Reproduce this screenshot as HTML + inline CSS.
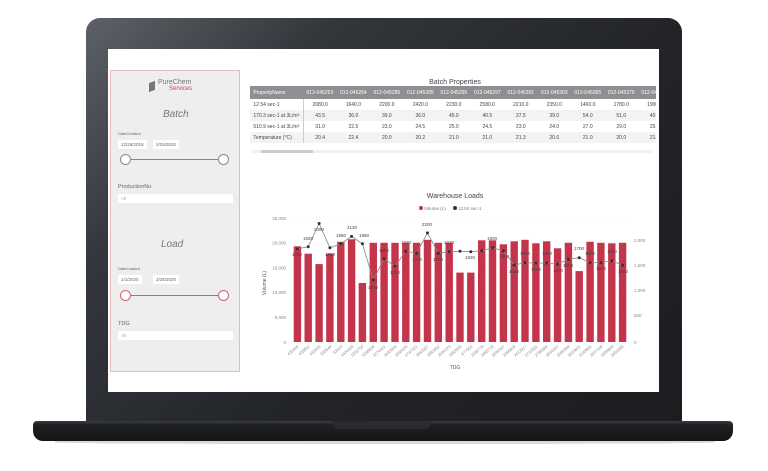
<!DOCTYPE html>
<html><head><meta charset="utf-8"><style>
html,body{margin:0;padding:0;width:768px;height:471px;overflow:hidden;background:#fff;font-family:"Liberation Sans",sans-serif}
.abs{position:absolute}
.bezel{left:86px;top:18px;width:596px;height:406px;border-radius:14px 14px 0 0;background:linear-gradient(135deg,#5d6268 0%,#33363b 25%,#222428 60%,#1c1d20 100%)}
.screen{left:108px;top:49px;width:551px;height:343px;background:#fff}
.base{left:33px;top:421px;width:700px;height:20px;border-radius:4px 4px 10px 10px;background:linear-gradient(#3a3c40 0,#1f2023 20%,#141517 100%)}
.shadow{left:55px;top:441px;width:660px;height:3px;background:#d9d9d9;border-radius:0 0 50% 50%}
.notch{left:333px;top:421px;width:98px;height:8px;background:#2a2b2e;border-radius:0 0 6px 6px}
.side{left:110px;top:70px;width:130px;height:302px;background:#eeeeef;border:1px solid #e8b9bf;box-sizing:border-box}
.t{font-size:5px;color:#666}
table{border-collapse:collapse;font-size:5px;color:#444}
td{height:11px;padding:0 3.4px;white-space:nowrap;text-align:center}
</style></head><body>
<div class="abs bezel"></div>
<div class="abs screen"></div>
<div class="abs base"></div>
<div class="abs notch"></div>
<div class="abs shadow"></div>

<div class="abs side">
 <div class="abs" style="left:38px;top:11px;width:6px;height:9px;background:#777;transform:skewY(-20deg)"></div>
 <div class="abs" style="left:47px;top:8px;font-size:7px;color:#777">PureChem</div>
 <div class="abs" style="left:58px;top:15px;font-size:6px;color:#c4455a">Services</div>
 <div class="abs" style="left:52px;top:38px;font-size:10px;color:#777;font-style:italic">Batch</div>
 <div class="abs t" style="left:7px;top:60px;font-size:4px">DateCreated</div>
 <div class="abs t" style="left:7px;top:69px;background:#fff;padding:2px 3px;font-size:4.5px">12/29/2019</div>
 <div class="abs t" style="left:42px;top:69px;background:#fff;padding:2px 3px;font-size:4.5px">2/25/2020</div>
 <div class="abs" style="left:15px;top:88px;width:98px;height:1px;background:#888"></div>
 <div class="abs" style="left:9px;top:83px;width:9px;height:9px;border:1px solid #888;border-radius:50%;background:#fff"></div>
 <div class="abs" style="left:107px;top:83px;width:9px;height:9px;border:1px solid #888;border-radius:50%;background:#fff"></div>
 <div class="abs t" style="left:7px;top:113px;font-size:5.5px">ProductionNo</div>
 <div class="abs t" style="left:7px;top:123px;width:115px;height:9px;background:#fff;color:#aaa;padding:2px 3px;box-sizing:border-box;font-size:4.5px">All</div>
 <div class="abs" style="left:50px;top:168px;font-size:10px;color:#777;font-style:italic">Load</div>
 <div class="abs t" style="left:7px;top:195px;font-size:4px">DateLoaded</div>
 <div class="abs t" style="left:7px;top:204px;background:#fff;padding:2px 3px;font-size:4.5px">1/1/2020</div>
 <div class="abs t" style="left:42px;top:204px;background:#fff;padding:2px 3px;font-size:4.5px">2/25/2020</div>
 <div class="abs" style="left:15px;top:224px;width:98px;height:1px;background:#d06070"></div>
 <div class="abs" style="left:9px;top:219px;width:9px;height:9px;border:1px solid #d06070;border-radius:50%;background:#fff"></div>
 <div class="abs" style="left:107px;top:219px;width:9px;height:9px;border:1px solid #d06070;border-radius:50%;background:#fff"></div>
 <div class="abs t" style="left:7px;top:250px;font-size:5.5px">TDG</div>
 <div class="abs t" style="left:7px;top:260px;width:115px;height:9px;background:#fff;color:#aaa;padding:2px 3px;box-sizing:border-box;font-size:4.5px">All</div>
</div>

<div class="abs" style="left:250px;top:79px;width:410px;text-align:center;font-size:7px;color:#444">Batch Properties</div>
<div class="abs" style="left:250px;top:86px;width:406px;height:70px;overflow:hidden">
<table>
<tr style="background:#8d8f92;color:#fff;height:13px"><td style="text-align:left;width:47px">PropertyName</td><td>012-045253</td><td>012-045264</td><td>012-045285</td><td>012-045289</td><td>012-045295</td><td>012-045297</td><td>012-045301</td><td>012-045303</td><td>012-045365</td><td>012-045370</td><td>012-045371</td></tr>
<tr><td style="text-align:left;border-right:1px solid #ccc">12.54 sec-1</td><td>2080.0</td><td>1640.0</td><td>2200.0</td><td>2420.0</td><td>2230.0</td><td>2580.0</td><td>2210.0</td><td>2350.0</td><td>1460.0</td><td>1780.0</td><td>1900.0</td></tr>
<tr style="background:#f3f3f3"><td style="text-align:left;border-right:1px solid #ccc">170.3 sec-1 at 3L/m³</td><td>43.5</td><td>36.0</td><td>39.0</td><td>36.0</td><td>45.0</td><td>40.5</td><td>37.5</td><td>39.0</td><td>54.0</td><td>51.0</td><td>40.0</td></tr>
<tr><td style="text-align:left;border-right:1px solid #ccc">510.9 sec-1 at 3L/m³</td><td>31.0</td><td>22.5</td><td>23.0</td><td>24.5</td><td>25.0</td><td>24.5</td><td>23.0</td><td>24.0</td><td>27.0</td><td>29.0</td><td>25.0</td></tr>
<tr style="background:#f3f3f3"><td style="text-align:left;border-right:1px solid #ccc">Temperature (°C)</td><td>20.4</td><td>22.4</td><td>20.0</td><td>20.2</td><td>21.0</td><td>21.0</td><td>21.3</td><td>20.6</td><td>21.0</td><td>20.0</td><td>21.0</td></tr>
</table>
<div class="abs" style="left:2px;top:64px;width:400px;height:3px;background:#f0f0f0"></div>
<div class="abs" style="left:11px;top:64px;width:52px;height:3px;background:#ccc"></div>
</div>

<svg class="abs" style="left:0;top:0" width="768" height="471">
<g font-family="Liberation Sans,sans-serif">
<text x="455" y="198" font-size="7" fill="#444" text-anchor="middle">Warehouse Loads</text>
<circle cx="421" cy="208" r="2" fill="#c4304a"/><text x="424" y="210" font-size="4.5" fill="#777">Volume (L)</text>
<circle cx="455" cy="208" r="2" fill="#333"/><text x="458" y="210" font-size="4.5" fill="#777">12.54 sec-1</text>
<g stroke="#e6e6e6" stroke-dasharray="1,2" stroke-width="0.5">
<line x1="292" x2="628" y1="218" y2="218"/><line x1="292" x2="628" y1="242.8" y2="242.8"/><line x1="292" x2="628" y1="267.6" y2="267.6"/><line x1="292" x2="628" y1="292.4" y2="292.4"/><line x1="292" x2="628" y1="317.2" y2="317.2"/>
</g>
<g font-size="4.5" fill="#888" text-anchor="end">
<text x="286" y="220">25,000</text><text x="286" y="244.5">20,000</text><text x="286" y="269.5">15,000</text><text x="286" y="294">10,000</text><text x="286" y="319">5,000</text><text x="286" y="344">0</text>
</g>
<g font-size="4.5" fill="#888">
<text x="634" y="242">2,000</text><text x="634" y="267">1,500</text><text x="634" y="292">1,000</text><text x="634" y="317">500</text><text x="634" y="344">0</text>
</g>
<text x="266" y="283" font-size="5" fill="#555" transform="rotate(-90 266 283)" text-anchor="middle">Volume (L)</text>
<text x="455" y="369" font-size="5" fill="#555" text-anchor="middle">TDG</text>
<g fill="#c4354c">
<rect x="293.7" y="246.3" width="7.4" height="95.7"/><rect x="304.5" y="253.7" width="7.4" height="88.3"/><rect x="315.4" y="264.1" width="7.4" height="77.9"/><rect x="326.2" y="253.7" width="7.4" height="88.3"/><rect x="337.1" y="241.8" width="7.4" height="100.2"/><rect x="347.9" y="239.3" width="7.4" height="102.7"/><rect x="358.7" y="283" width="7.4" height="59"/><rect x="369.6" y="242.8" width="7.4" height="99.2"/><rect x="380.4" y="242.8" width="7.4" height="99.2"/><rect x="391.3" y="242.8" width="7.4" height="99.2"/><rect x="402.1" y="242.8" width="7.4" height="99.2"/><rect x="412.9" y="242.8" width="7.4" height="99.2"/><rect x="423.8" y="239.8" width="7.4" height="102.2"/><rect x="434.6" y="242.8" width="7.4" height="99.2"/><rect x="445.5" y="242.8" width="7.4" height="99.2"/><rect x="456.3" y="272.6" width="7.4" height="69.4"/><rect x="467.1" y="272.6" width="7.4" height="69.4"/><rect x="478" y="240.3" width="7.4" height="101.7"/><rect x="488.8" y="240.3" width="7.4" height="101.7"/><rect x="499.7" y="244.3" width="7.4" height="97.7"/><rect x="510.5" y="241.3" width="7.4" height="100.7"/><rect x="521.3" y="239.8" width="7.4" height="102.2"/><rect x="532.2" y="243.3" width="7.4" height="98.7"/><rect x="543" y="241.3" width="7.4" height="100.7"/><rect x="553.9" y="248.3" width="7.4" height="93.7"/><rect x="564.7" y="242.8" width="7.4" height="99.2"/><rect x="575.5" y="271.1" width="7.4" height="70.9"/><rect x="586.4" y="241.8" width="7.4" height="100.2"/><rect x="597.2" y="242.8" width="7.4" height="99.2"/><rect x="608.1" y="243.3" width="7.4" height="98.7"/><rect x="618.9" y="242.8" width="7.4" height="99.2"/>
</g>
<polyline fill="none" stroke="#888" stroke-width="0.8" points="297.4,248.8 308.2,246.8 319.1,223.5 329.9,247.8 340.8,243.8 351.6,236.4 362.4,243.8 373.3,280 384.1,258.7 395,266.1 405.8,251.2 416.6,253.2 427.5,232.9 438.3,253.2 449.2,251.7 460,251.2 470.8,251.7 481.7,250.7 492.5,247.8 503.4,250.7 514.2,265.1 525,262.6 535.9,263.1 546.7,263.1 557.6,264.1 568.4,259.2 579.2,257.7 590.1,262.6 600.9,262.6 611.8,260.7 622.6,265.1"/>
<g fill="#333">
<circle cx="297.4" cy="248.8" r="1.5"/><circle cx="308.2" cy="246.8" r="1.5"/><circle cx="319.1" cy="223.5" r="1.5"/><circle cx="329.9" cy="247.8" r="1.5"/><circle cx="340.8" cy="243.8" r="1.5"/><circle cx="351.6" cy="236.4" r="1.5"/><circle cx="362.4" cy="243.8" r="1.5"/><circle cx="373.3" cy="280" r="1.5"/><circle cx="384.1" cy="258.7" r="1.5"/><circle cx="395" cy="266.1" r="1.5"/><circle cx="405.8" cy="251.2" r="1.5"/><circle cx="416.6" cy="253.2" r="1.5"/><circle cx="427.5" cy="232.9" r="1.5"/><circle cx="438.3" cy="253.2" r="1.5"/><circle cx="449.2" cy="251.7" r="1.5"/><circle cx="460" cy="251.2" r="1.5"/><circle cx="470.8" cy="251.7" r="1.5"/><circle cx="481.7" cy="250.7" r="1.5"/><circle cx="492.5" cy="247.8" r="1.5"/><circle cx="503.4" cy="250.7" r="1.5"/><circle cx="514.2" cy="265.1" r="1.5"/><circle cx="525" cy="262.6" r="1.5"/><circle cx="535.9" cy="263.1" r="1.5"/><circle cx="546.7" cy="263.1" r="1.5"/><circle cx="557.6" cy="264.1" r="1.5"/><circle cx="568.4" cy="259.2" r="1.5"/><circle cx="579.2" cy="257.7" r="1.5"/><circle cx="590.1" cy="262.6" r="1.5"/><circle cx="600.9" cy="262.6" r="1.5"/><circle cx="611.8" cy="260.7" r="1.5"/><circle cx="622.6" cy="265.1" r="1.5"/>
</g>
<g font-size="4.5" fill="#444" text-anchor="middle">
<text x="297" y="256">1880</text><text x="308" y="240">1920</text><text x="319" y="231">2390</text><text x="330" y="256">1850</text><text x="341" y="237">1980</text><text x="352" y="229">2130</text><text x="364" y="237">1980</text><text x="373" y="289">1250</text><text x="384" y="252">1680</text><text x="395" y="274">1530</text><text x="406" y="244">1830</text><text x="417" y="261">1790</text><text x="427" y="226">2200</text><text x="438" y="261">1790</text><text x="449" y="244">1830</text><text x="470" y="259">1820</text><text x="492" y="240">1900</text><text x="504" y="258">1850</text><text x="514" y="273">1550</text><text x="525" y="255">1600</text><text x="536" y="271">1590</text><text x="547" y="255">1590</text><text x="558" y="272">1570</text><text x="568" y="267">1670</text><text x="579" y="250">1700</text><text x="590" y="255">1600</text><text x="601" y="270">1600</text><text x="612" y="253">1640</text><text x="623" y="273">1550</text>
</g>
<g font-size="4" fill="#888" text-anchor="end">
<text transform="translate(299,347) rotate(-40)">435464</text><text transform="translate(310,347) rotate(-40)">435891</text><text transform="translate(321,347) rotate(-40)">432035</text><text transform="translate(332,347) rotate(-40)">845548</text><text transform="translate(343,347) rotate(-40)">62622</text><text transform="translate(354,347) rotate(-40)">1024326</text><text transform="translate(364,347) rotate(-40)">1302750</text><text transform="translate(375,347) rotate(-40)">1268838</text><text transform="translate(386,347) rotate(-40)">1274421</text><text transform="translate(397,347) rotate(-40)">1433560</text><text transform="translate(408,347) rotate(-40)">1555425</text><text transform="translate(418,347) rotate(-40)">1747221</text><text transform="translate(429,347) rotate(-40)">1863287</text><text transform="translate(440,347) rotate(-40)">1883492</text><text transform="translate(451,347) rotate(-40)">1934123</text><text transform="translate(462,347) rotate(-40)">1962926</text><text transform="translate(473,347) rotate(-40)">877901</text><text transform="translate(484,347) rotate(-40)">2168779</text><text transform="translate(494,347) rotate(-40)">2455718</text><text transform="translate(505,347) rotate(-40)">2296347</text><text transform="translate(516,347) rotate(-40)">2356805</text><text transform="translate(527,347) rotate(-40)">2413917</text><text transform="translate(538,347) rotate(-40)">2710531</text><text transform="translate(548,347) rotate(-40)">2786388</text><text transform="translate(559,347) rotate(-40)">2844207</text><text transform="translate(570,347) rotate(-40)">2990399</text><text transform="translate(581,347) rotate(-40)">3023601</text><text transform="translate(592,347) rotate(-40)">3145864</text><text transform="translate(603,347) rotate(-40)">3207105</text><text transform="translate(614,347) rotate(-40)">3329850</text><text transform="translate(624,347) rotate(-40)">3451085</text>
</g>
</g>
</svg>
</body></html>
